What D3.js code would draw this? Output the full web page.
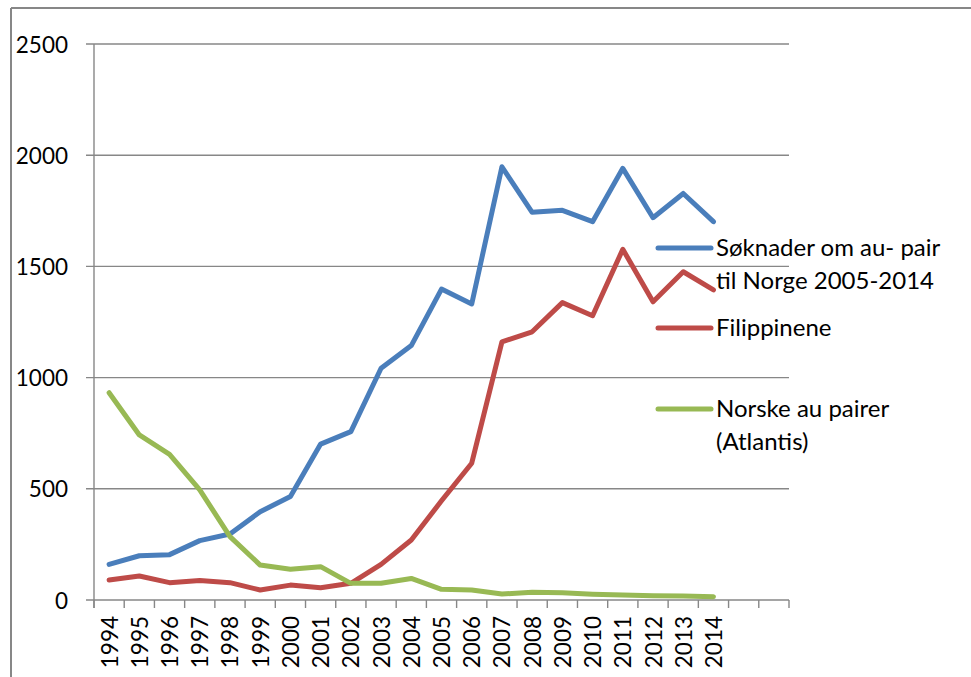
<!DOCTYPE html>
<html>
<head>
<meta charset="utf-8">
<script src="https://cdn.jsdelivr.net/npm/d3@7"></script>
<style>
  html, body { margin: 0; padding: 0; background: #fff; }
  svg { display: block; font-family: Lato, "Open Sans", sans-serif; }
</style>
</head>
<body>
<svg id="chart" width="971" height="677"></svg>
<script>
// data
const years = ['1994','1995','1996','1997','1998','1999','2000','2001','2002','2003','2004',
               '2005','2006','2007','2008','2009','2010','2011','2012','2013','2014'];
const blankSlots = ['_x1', '_x2'];   // two empty categories after 2014
const soknader = [160, 199, 204, 267, 297, 397, 465, 701, 757, 1042, 1144,
                  1398, 1331, 1948, 1743, 1752, 1701, 1941, 1719, 1828, 1701];
const filippinene = [90, 108, 78, 88, 78, 45, 67, 55, 75, 160, 270,
                     446, 615, 1161, 1206, 1337, 1278, 1577, 1341, 1476, 1394];
const norske = [932, 742, 655, 495, 285, 157, 138, 150, 75, 75, 97,
                48, 45, 27, 35, 33, 26, 22, 19, 18, 15];
const yTicks = [0, 500, 1000, 1500, 2000, 2500];
const seriesNames = [['Søknader om au- pair', 'til Norge 2005-2014'], ['Filippinene'], ['Norske au pairer', '(Atlantis)']];
const seriesColours = ['#4a7ebb', '#be4b48', '#98b954'];

const series = [soknader, filippinene, norske];

const svg = d3.select('#chart');
const plotLeft = 94, plotRight = 789, plotTop = 44, plotBottom = 600;
const axisGrey = '#878787';

// outer frame (left and top edges only are visible)
svg.append('line').attr('x1', 11).attr('x2', 11).attr('y1', 8).attr('y2', 677)
   .attr('stroke', axisGrey).attr('stroke-width', 2);
svg.append('line').attr('x1', 11).attr('x2', 971).attr('y1', 8).attr('y2', 8)
   .attr('stroke', axisGrey).attr('stroke-width', 2);

const x = d3.scaleBand().domain(years.concat(blankSlots)).range([plotLeft, plotRight]).padding(0);
const y = d3.scaleLinear().domain([0, 2500]).range([plotBottom, plotTop]);

// gridlines + y ticks
const g = svg.append('g');
g.selectAll('.grid').data(yTicks).enter().append('line')
  .attr('class', 'grid')
  .attr('x1', plotLeft - 8).attr('x2', plotRight)
  .attr('y1', d => y(d)).attr('y2', d => y(d))
  .attr('stroke', axisGrey).attr('stroke-width', 1.4);

g.selectAll('.ylab').data(yTicks).enter().append('text')
  .attr('class', 'ylab')
  .attr('x', 68).attr('y', d => y(d))
  .attr('text-anchor', 'end').attr('dominant-baseline', 'central')
  .style('font-size', '22.5px').attr('fill', '#000')
  .text(d => d);

// y axis line
g.append('line').attr('x1', plotLeft).attr('x2', plotLeft).attr('y1', plotTop).attr('y2', plotBottom + 8)
  .attr('stroke', axisGrey).attr('stroke-width', 1.4);

// x ticks sit between categories, like the spreadsheet chart
const bounds = x.domain().map(d => x(d)).concat([plotRight]);
g.selectAll('.xtick').data(bounds).enter().append('line')
  .attr('class', 'xtick')
  .attr('x1', d => d).attr('x2', d => d)
  .attr('y1', plotBottom).attr('y2', plotBottom + 8)
  .attr('stroke', axisGrey).attr('stroke-width', 1.4);

g.selectAll('.xlab').data(years).enter().append('text')
  .attr('class', 'xlab')
  .attr('transform', d => `translate(${x(d) + x.bandwidth() / 2}, 616) rotate(-90)`)
  .attr('text-anchor', 'end').attr('dominant-baseline', 'central')
  .style('font-size', '22.5px').attr('fill', '#000')
  .text(d => d);

// the three lines
const line = d3.line()
  .x((d, i) => x(years[i]) + x.bandwidth() / 2)
  .y(d => y(d));

svg.selectAll('.series').data(series).enter().append('path')
  .attr('class', 'series')
  .attr('d', line)
  .attr('fill', 'none')
  .attr('stroke', (d, i) => seriesColours[i])
  .attr('stroke-width', 5)
  .attr('stroke-linejoin', 'round')
  .attr('stroke-linecap', 'round');

// legend
const legendRows = [248, 328, 409];
const lg = svg.append('g');
seriesNames.forEach((lines, i) => {
  lg.append('line')
    .attr('x1', 658).attr('x2', 711)
    .attr('y1', legendRows[i]).attr('y2', legendRows[i])
    .attr('stroke', seriesColours[i]).attr('stroke-width', 5)
    .attr('stroke-linecap', 'round');
  lg.append('text')
    .attr('x', 716).attr('y', legendRows[i])
    .style('font-size', '24px').attr('fill', '#000')
    .selectAll('tspan').data(lines).enter().append('tspan')
    .attr('x', 716)
    .attr('dy', (d, j) => j === 0 ? '0.35em' : 33)
    .text(d => d);
});
</script>
</body>
</html>
